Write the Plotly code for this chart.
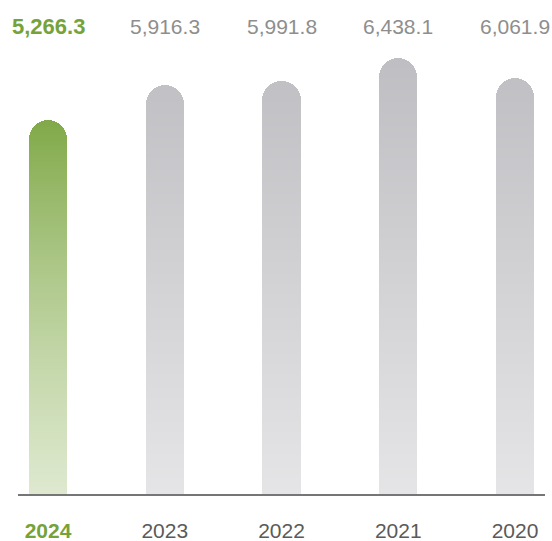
import base64
import plotly.graph_objects as go

# data
years = ["2024", "2023", "2022", "2021", "2020"]
values = [5266.3, 5916.3, 5991.8, 6438.1, 6061.9]
value_labels = ["5,266.3", "5,916.3", "5,991.8", "6,438.1", "6,061.9"]

# styling
GREEN = "#699926"
GREEN_TEXT = "#76A23A"
GRAY_BAR = "#BEBEC2"
Y_BASE = -1750   # the bars do not start at zero in the original
Y_TOP = 7518
FONT = "Liberation Sans, Arial, sans-serif"

bar_colors = [GREEN] + [GRAY_BAR] * (len(years) - 1)


def fade(opacity):
    # white vertical fade, transparent at the top
    svg = (
        '<svg xmlns="http://www.w3.org/2000/svg" viewBox="0 0 10 100" preserveAspectRatio="none">'
        '<defs><linearGradient id="g" x1="0" y1="0" x2="0" y2="1">'
        '<stop offset="0" stop-color="#ffffff" stop-opacity="0"/>'
        f'<stop offset="1" stop-color="#ffffff" stop-opacity="{opacity}"/>'
        "</linearGradient></defs>"
        '<rect x="0" y="0" width="10" height="100" fill="url(#g)"/></svg>'
    )
    return "data:image/svg+xml;base64," + base64.b64encode(svg.encode()).decode()


fig = go.Figure()
# axis is shifted so the bars start at Y_BASE (setting base= would round both ends)
fig.add_trace(
    go.Bar(
        x=years,
        y=[v - Y_BASE for v in values],
        width=0.326,
        marker=dict(color=bar_colors, cornerradius=19, line=dict(width=0)),
        hoverinfo="skip",
    )
)

# value labels along the top (x given as category index, years look numeric)
for i, lab in enumerate(value_labels):
    first = i == 0
    fig.add_annotation(
        x=i,
        y=0.947,
        xref="x",
        yref="paper",
        text=f"<b>{lab}</b>" if first else lab,
        showarrow=False,
        font=dict(family=FONT, size=22 if first else 21, color=GREEN_TEXT if first else "#8E8E8E"),
        xanchor="center",
        yanchor="middle",
    )

tick_text = [f"<b><span style='color:{GREEN_TEXT}'>{years[0]}</span></b>"] + years[1:]

fig.update_layout(
    width=552,
    height=541,
    margin=dict(l=18, r=7, t=0, b=47, autoexpand=False),
    paper_bgcolor="white",
    plot_bgcolor="white",
    showlegend=False,
    bargap=0,
    xaxis=dict(
        type="category",
        range=[-0.257, 4.257],
        tickmode="array",
        tickvals=years,
        ticktext=tick_text,
        showline=True,
        linecolor="#767676",
        linewidth=1.5,
        showgrid=False,
        zeroline=False,
        ticks="",
        automargin=False,
        ticklabelstandoff=17,
        tickfont=dict(family=FONT, size=21, color="#5A5A5A"),
        fixedrange=True,
    ),
    yaxis=dict(
        range=[0, Y_TOP - Y_BASE],
        visible=False,
        showgrid=False,
        zeroline=False,
        automargin=False,
        fixedrange=True,
    ),
    images=[
        # fade over every bar
        dict(
            source=fade(0.6),
            xref="paper",
            yref="paper",
            x=0,
            y=0.9,
            sizex=1,
            sizey=0.9,
            xanchor="left",
            yanchor="top",
            sizing="stretch",
            layer="above",
        ),
        # the green bar fades a bit further
        dict(
            source=fade(0.45),
            xref="x",
            yref="paper",
            x=-0.5,
            y=0.9,
            sizex=1,
            sizey=0.9,
            xanchor="left",
            yanchor="top",
            sizing="stretch",
            layer="above",
        ),
    ],
)

fig.write_html(
    "out.html",
    config={"displayModeBar": False},
    post_script="document.body.style.margin='0';",
)
